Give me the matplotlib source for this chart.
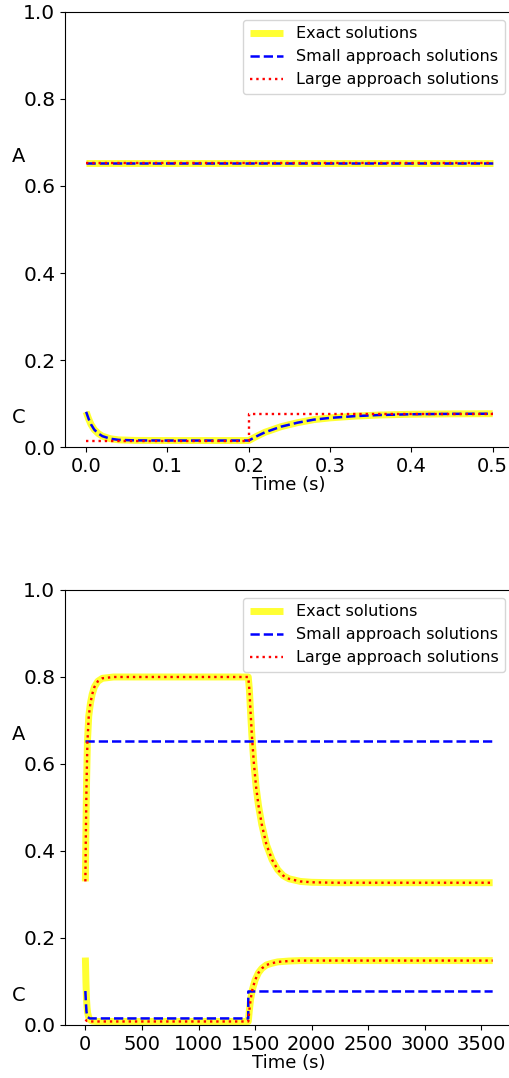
import matplotlib
matplotlib.use('Agg')
import matplotlib.pyplot as plt

# ---- top panel: time in 0..0.5 s ----
t_top_a = [0.0, 0.5]
exact_a_top = [0.652, 0.652]
small_a_top = [0.652, 0.652]
large_a_top = [0.652, 0.652]

t_top_c = [0.0, 0.003, 0.006, 0.01, 0.015, 0.02, 0.03, 0.04, 0.06, 0.1, 0.2,
           0.21, 0.22, 0.24, 0.26, 0.28, 0.3, 0.33, 0.36, 0.4, 0.45, 0.5]
exact_c_top = [0.081, 0.065, 0.052, 0.040, 0.031, 0.025, 0.019, 0.0165, 0.0153, 0.015, 0.015,
               0.025, 0.034, 0.047, 0.056, 0.063, 0.067, 0.071, 0.0736, 0.0754, 0.0763, 0.0766]
small_c_top = [0.081, 0.065, 0.052, 0.040, 0.031, 0.025, 0.019, 0.0165, 0.0153, 0.015, 0.015,
               0.025, 0.034, 0.047, 0.056, 0.063, 0.067, 0.071, 0.0736, 0.0754, 0.0763, 0.0766]
t_top_c_large = [0.0, 0.2, 0.2, 0.5]
large_c_top = [0.015, 0.015, 0.077, 0.077]

# ---- bottom panel: time in 0..3600 s ----
t_bot_a = [0, 5, 10, 18, 30, 45, 60, 80, 110, 150, 250, 1440, 1450, 1460, 1472, 1490,
           1510, 1530, 1560, 1600, 1650, 1700, 1750, 1800, 1900, 2000, 2200, 3600]
exact_a_bot = [0.33, 0.45, 0.55, 0.65, 0.71, 0.74, 0.76, 0.777, 0.79, 0.797, 0.80, 0.80, 0.77,
               0.72, 0.665, 0.60, 0.545, 0.505, 0.46, 0.415, 0.38, 0.357, 0.343, 0.336,
               0.33, 0.328, 0.327, 0.327]
large_a_bot = list(exact_a_bot)
t_bot_a_small = [0, 3600]
small_a_bot = [0.652, 0.652]

t_bot_c = [0, 5, 10, 15, 20, 30, 45, 60, 100, 1440, 1450, 1460, 1475, 1500, 1530,
           1560, 1600, 1650, 1700, 1800, 1900, 2000, 2200, 3600]
exact_c_bot = [0.155, 0.10, 0.06, 0.04, 0.028, 0.017, 0.011, 0.009, 0.008, 0.008, 0.035,
               0.058, 0.08, 0.103, 0.12, 0.13, 0.138, 0.142, 0.145, 0.147, 0.148, 0.148,
               0.148, 0.148]
large_c_bot = [0.012, 0.011, 0.010, 0.009, 0.009, 0.008, 0.008, 0.008, 0.008, 0.008, 0.035,
               0.058, 0.08, 0.103, 0.12, 0.13, 0.138, 0.142, 0.145, 0.147, 0.148, 0.148,
               0.148, 0.148]
t_bot_c_small = [0, 5, 10, 20, 40, 1440, 1440, 3600]
small_c_bot = [0.078, 0.05, 0.03, 0.018, 0.015, 0.015, 0.077, 0.077]

fig = plt.figure(figsize=(5.09, 10.78), dpi=100)
ax1 = fig.add_axes([0.1277, 0.5853, 0.8802, 0.4036])
ax2 = fig.add_axes([0.1277, 0.0492, 0.8802, 0.4035])

exact_style = dict(color='#ffff33', lw=5, solid_capstyle='butt')
small_style = dict(color='blue', lw=1.8, ls='--')
large_style = dict(color='red', lw=1.7, ls=':')

# top
ax1.plot(t_top_a, exact_a_top, label='Exact solutions', **exact_style)
ax1.plot(t_top_c, exact_c_top, **exact_style)
ax1.plot(t_top_a, small_a_top, label='Small approach solutions', **small_style)
ax1.plot(t_top_c, small_c_top, **small_style)
ax1.plot(t_top_a, large_a_top, label='Large approach solutions', **large_style)
ax1.plot(t_top_c_large, large_c_top, **large_style)

# bottom
ax2.plot(t_bot_a, exact_a_bot, label='Exact solutions', **exact_style)
ax2.plot(t_bot_c, exact_c_bot, **exact_style)
ax2.plot(t_bot_a_small, small_a_bot, label='Small approach solutions', **small_style)
ax2.plot(t_bot_c_small, small_c_bot, **small_style)
ax2.plot(t_bot_a, large_a_bot, label='Large approach solutions', **large_style)
ax2.plot(t_bot_c, large_c_bot, **large_style)

for ax in (ax1, ax2):
    ax.set_ylim(0, 1.0)
    ax.set_yticks([0.0, 0.2, 0.4, 0.6, 0.8, 1.0])
    ax.tick_params(axis='y', labelsize=14.5)
    ax.tick_params(axis='x', labelsize=14)
    ax.set_xlabel('Time (s)', fontsize=13, labelpad=0)
    ax.spines['right'].set_visible(False)
    ax.legend(loc='upper right', fontsize=11.5, handlelength=2.1)
    ax.text(-0.103, 0.667, 'A', transform=ax.transAxes, fontsize=14, ha='center', va='center')
    ax.text(-0.103, 0.067, 'C', transform=ax.transAxes, fontsize=14, ha='center', va='center')

ax1.set_xlim(-0.026, 0.525)
ax1.set_xticks([0.0, 0.1, 0.2, 0.3, 0.4, 0.5])
ax2.set_xlim(-180, 3780)
ax2.set_xticks([0, 500, 1000, 1500, 2000, 2500, 3000, 3500])

plt.savefig('out.png', dpi=100)
plt.close()
